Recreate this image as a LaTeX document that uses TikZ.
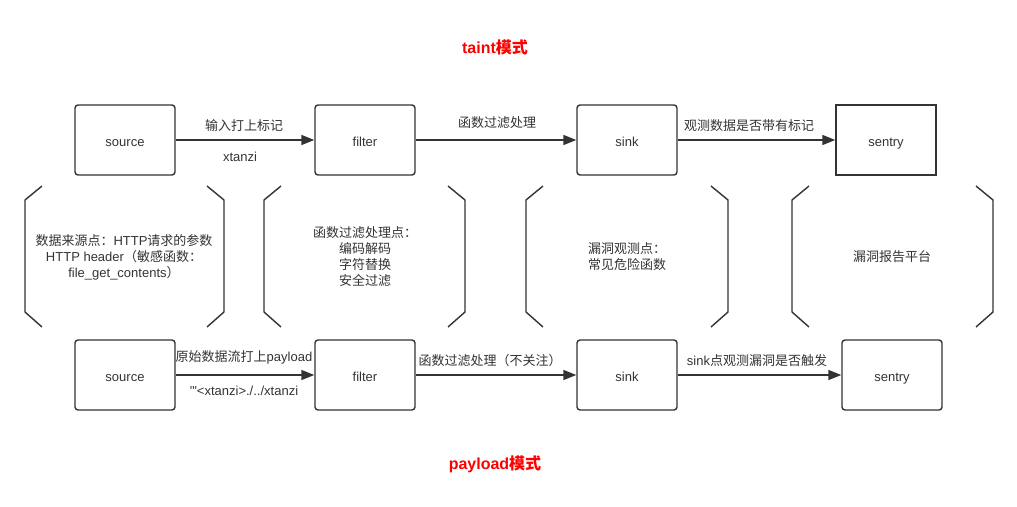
\documentclass[tikz,border=0pt]{standalone}
\usepackage{fontspec}
\usetikzlibrary{arrows.meta}
\newfontfamily\latf{Liberation Sans}
\newfontfamily\han{Noto Sans CJK SC}
\newcommand\hz[1]{{\han #1}}
\definecolor{ink}{HTML}{333333}
\definecolor{alert}{HTML}{FF0000}

\tikzset{
  txt/.style={font=\latf\fontsize{13}{16}\selectfont, text=ink, inner sep=0pt, align=center},
  stagebox/.style={txt, draw=ink, line width=1.4pt, rounded corners=3pt,
    minimum width=100pt, minimum height=70pt, text height=15pt, text depth=3pt},
  flow/.style={draw=ink, line width=1.4pt, -{Triangle[length=13pt,width=10pt]}},
  brace/.style={draw=ink, line width=1.4pt, line join=miter},
  heading/.style={font=\latf\fontsize{16}{19}\selectfont\bfseries, text=alert, inner sep=0pt}
}

% left and right halves of a bracket around a description
\newcommand\bracketpair[2]{%
  \draw[brace] (#1+17,186) -- (#1,200) -- (#1,312) -- (#1+17,327);
  \draw[brace] (#2-17,186) -- (#2,200) -- (#2,312) -- (#2-17,327);
}

\begin{document}
\begin{tikzpicture}[x=1pt,y=-1pt]
\useasboundingbox (0,0) rectangle (1017,506);

% titles
\node[heading] (ttaint) at (495,47) {taint\hz{模式}};
\node[heading] (tpay) at (495,464) {payload\hz{模式}};

% taint pipeline
\node[stagebox] (s1) at (125,140) {source};
\node[stagebox] (f1) at (365,140) {filter};
\node[stagebox] (k1) at (627,140) {sink};
\node[stagebox, sharp corners] (e1) at (886,140) {sentry};

\draw[flow] (s1) -- (f1);
\draw[flow] (f1) -- (k1);
\draw[flow] (k1) -- (e1);
\node[txt] (l11) at (244,126) {\hz{输入打上标记}};
\node[txt] (l12) at (240,157) {xtanzi};
\node[txt] (l2) at (497,123) {\hz{函数过滤处理}};
\node[txt] (l3) at (749,126) {\hz{观测数据是否带有标记}};

% payload pipeline
\node[stagebox] (s2) at (125,375) {source};
\node[stagebox] (f2) at (365,375) {filter};
\node[stagebox] (k2) at (627,375) {sink};
\node[stagebox] (e2) at (892,375) {sentry};

\draw[flow] (s2) -- (f2);
\draw[flow] (f2) -- (k2);
\draw[flow] (k2) -- (e2);
\node[txt] (m11) at (244,357) {\hz{原始数据流打上}payload};
\node[txt] (m12) at (244,391) {'"<xtanzi>./../xtanzi};
\node[txt] (m2) at (490,361) {\hz{函数过滤处理（不关注）}};
\node[txt] (m3) at (757,361) {sink\hz{点观测漏洞是否触发}};

% stage descriptions
\bracketpair{25}{224}
\bracketpair{264}{465}
\bracketpair{526}{728}
\bracketpair{792}{993}
\node[txt] (d1) at (124,257) {\hz{数据来源点：}HTTP\hz{请求的参数}\\HTTP header\hz{（敏感函数：}\\file\_get\_contents\hz{）}};
\node[txt] (d2) at (365,257) {\hz{函数过滤处理点：}\\\hz{编码解码}\\\hz{字符替换}\\\hz{安全过滤}};
\node[txt] (d3) at (627,257) {\hz{漏洞观测点：}\\\hz{常见危险函数}};
\node[txt] (d4) at (892,257) {\hz{漏洞报告平台}};
\end{tikzpicture}
\end{document}
